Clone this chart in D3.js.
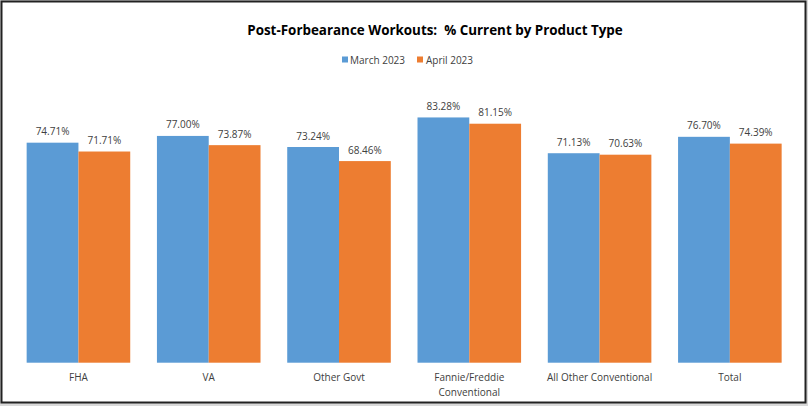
<!DOCTYPE html>
<html>
<head>
<meta charset="utf-8">
<script src="https://cdn.jsdelivr.net/npm/d3@7"></script>
<style>
  body { margin: 0; background: #d9d9d9; }
  svg { display: block; }
</style>
</head>
<body>
<div id="chart"></div>
<script>
// Chart data
const categories = ['FHA', 'VA', 'Other Govt', 'Fannie/Freddie Conventional', 'All Other Conventional', 'Total'];
const categoryLines = [['FHA'], ['VA'], ['Other Govt'], ['Fannie/Freddie', 'Conventional'], ['All Other Conventional'], ['Total']];
const seriesNames = ['March 2023', 'April 2023'];
const march2023 = [74.71, 77.00, 73.24, 83.28, 71.13, 76.70];
const april2023 = [71.71, 73.87, 68.46, 81.15, 70.63, 74.39];
const seriesValues = [march2023, april2023];
const colors = ['#5B9BD5', '#ED7D31'];

const width = 808, height = 406;
const font = "'Open Sans', 'Liberation Sans', sans-serif";

const svg = d3.select('#chart').append('svg')
    .attr('width', width)
    .attr('height', height);

// background + frame
svg.append('rect')
    .attr('x', 1.5).attr('y', 1.5)
    .attr('width', 804).attr('height', 401)
    .attr('fill', '#fff')
    .attr('stroke', '#222')
    .attr('stroke-width', 2);

// Scales
const x0 = d3.scaleBand(categories, [13.3, 795]).paddingInner(0.205).paddingOuter(0.1025);
const x1 = d3.scaleBand(d3.range(seriesNames.length), [0, x0.bandwidth()]);
const y = d3.scaleLinear([0, 100], [362.7, 68.2]);

// Title
const title = svg.append('text')
    .attr('x', 435)
    .attr('y', 35)
    .attr('text-anchor', 'middle')
    .attr('font-family', font)
    .attr('font-weight', 'bold')
    .attr('font-size', 15)
    .attr('fill', '#000')
    .text('Post-Forbearance Workouts:\u00a0 % Current by Product Type');
// squeeze to match narrow original font
const tw = title.node().getComputedTextLength();
title.attr('font-size', 15 * 376 / tw);

// Legend
const legendItems = [{ sq: 342, tx: 350 }, { sq: 417, tx: 426 }];
const legend = svg.append('g').selectAll('g').data(seriesNames)
    .join('g');
legend.append('rect')
    .attr('x', (d, i) => legendItems[i].sq)
    .attr('y', 56.5)
    .attr('width', 6).attr('height', 6)
    .attr('fill', (d, i) => colors[i]);
legend.append('text')
    .attr('x', (d, i) => legendItems[i].tx)
    .attr('y', 63.5)
    .attr('font-family', font)
    .attr('font-size', 10)
    .attr('fill', '#404040')
    .text(d => d);

// Bars
const groups = svg.append('g').selectAll('g').data(categories)
    .join('g')
    .attr('transform', d => `translate(${x0(d)},0)`);

groups.selectAll('rect')
    .data((d, ci) => seriesValues.map((vals, si) => ({ si, v: vals[ci] })))
    .join('rect')
    .attr('x', d => x1(d.si))
    .attr('width', x1.bandwidth())
    .attr('y', d => y(d.v))
    .attr('height', d => y(0) - y(d.v))
    .attr('fill', d => colors[d.si]);

groups.selectAll('text.val')
    .data((d, ci) => seriesValues.map((vals, si) => ({ si, v: vals[ci] })))
    .join('text')
    .attr('class', 'val')
    .attr('x', d => x1(d.si) + x1.bandwidth() / 2)
    .attr('y', d => y(d.v) - 7.5)
    .attr('text-anchor', 'middle')
    .attr('font-family', font)
    .attr('font-size', 10)
    .attr('fill', '#404040')
    .text(d => d.v.toFixed(2) + '%');

// Category labels
groups.each(function(d, ci) {
    d3.select(this).append('text')
        .attr('x', x0.bandwidth() / 2)
        .attr('text-anchor', 'middle')
        .attr('font-family', font)
        .attr('font-size', 10)
        .attr('fill', '#404040')
        .selectAll('tspan').data(categoryLines[ci])
        .join('tspan')
        .attr('x', x0.bandwidth() / 2)
        .attr('y', (t, li) => 380.5 + li * 15)
        .text(t => t);
});
</script>
</body>
</html>
